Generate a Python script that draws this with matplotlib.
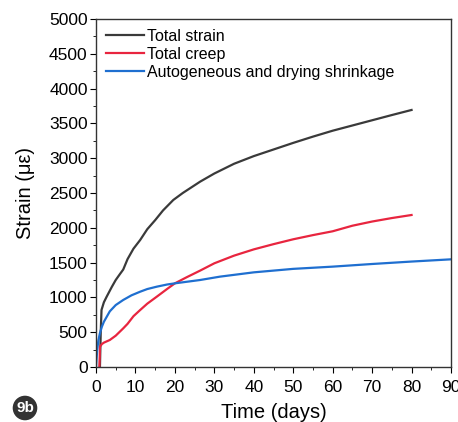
import numpy as np
import matplotlib.pyplot as plt

plt.rcParams['font.family'] = ['Liberation Sans', 'DejaVu Sans']

# values
days_strain = [1.0, 1.2, 1.4, 2, 2.7, 4, 5, 6, 6.9, 8, 9.5, 11.2, 13, 15, 17, 19.6, 22, 26.4, 30, 35, 40, 45, 50, 55, 60, 65, 70, 75, 80]
total_strain = [0, 500, 820, 930, 1010, 1150, 1250, 1330, 1400, 1550, 1700, 1825, 1980, 2110, 2250, 2400, 2500, 2663, 2780, 2920, 3030, 3125, 3220, 3310, 3395, 3470, 3545, 3620, 3693]

days_creep = [0.85, 0.95, 1.0, 1.5, 2, 3.5, 5, 6.9, 8, 9.5, 11.2, 13, 15.4, 18, 20, 23, 26.4, 30, 35, 40, 45, 50, 55, 60, 65, 70, 75, 80]
total_creep = [0, 150, 292, 330, 350, 388, 450, 555, 620, 730, 819, 910, 1010, 1120, 1202, 1290, 1385, 1490, 1600, 1690, 1765, 1835, 1895, 1950, 2030, 2090, 2140, 2184]

days_shrink = [0, 0.3, 0.6, 1, 1.5, 2, 3.5, 5, 6.9, 9, 11.2, 13, 15.4, 18, 20, 26.4, 31.4, 40, 50, 60, 70, 80, 90]
shrinkage = [0, 244, 380, 488, 580, 650, 800, 890, 963, 1030, 1082, 1120, 1154, 1185, 1202, 1250, 1298, 1360, 1410, 1442, 1480, 1515, 1547]

labels = ["Total strain", "Total creep", "Autogeneous and drying shrinkage"]

fig = plt.figure(figsize=(4.58, 4.22), dpi=100)
ax = fig.add_axes([96 / 458, (422 - 367) / 422, 355 / 458, 348 / 422])

ax.plot(days_strain, total_strain, color='#3a3a3a', lw=1.6, label=labels[0])
ax.plot(days_creep, total_creep, color='#e8253f', lw=1.6, label=labels[1])
ax.plot(days_shrink, shrinkage, color='#1f6fd0', lw=1.6, label=labels[2])

ax.set_xlim(0, 90)
ax.set_ylim(0, 5000)
ax.set_xticks(np.arange(0, 91, 10))
ax.set_yticks(np.arange(0, 5001, 500))
ax.set_xticks(np.arange(5, 90, 10), minor=True)
ax.set_yticks(np.arange(250, 5000, 500), minor=True)
ax.tick_params(axis='both', which='major', labelsize=12.5, length=4, direction='out')
ax.tick_params(axis='both', which='minor', length=2.5, direction='out')
ax.tick_params(axis='x', pad=5)
ax.tick_params(axis='y', pad=2)
for s in ax.spines.values():
    s.set_linewidth(1.0)
    s.set_color('#333333')

ax.set_xlabel("Time (days)", fontsize=14.5, labelpad=6)
ax.set_ylabel("Strain (\u03bc\u03b5)", fontsize=14.5, labelpad=10)

leg = ax.legend(loc='upper left', frameon=False, fontsize=11.5, handlelength=2.4,
                handletextpad=0.2, labelspacing=0.2, borderaxespad=0.2)

fig.text(25 / 458, 1 - 408 / 422, "9b", color='white', fontsize=11, fontweight='bold',
         ha='center', va='center',
         bbox=dict(boxstyle='circle,pad=0.22', fc='#333333', ec='none'))

fig.savefig("out.png", dpi=100)
